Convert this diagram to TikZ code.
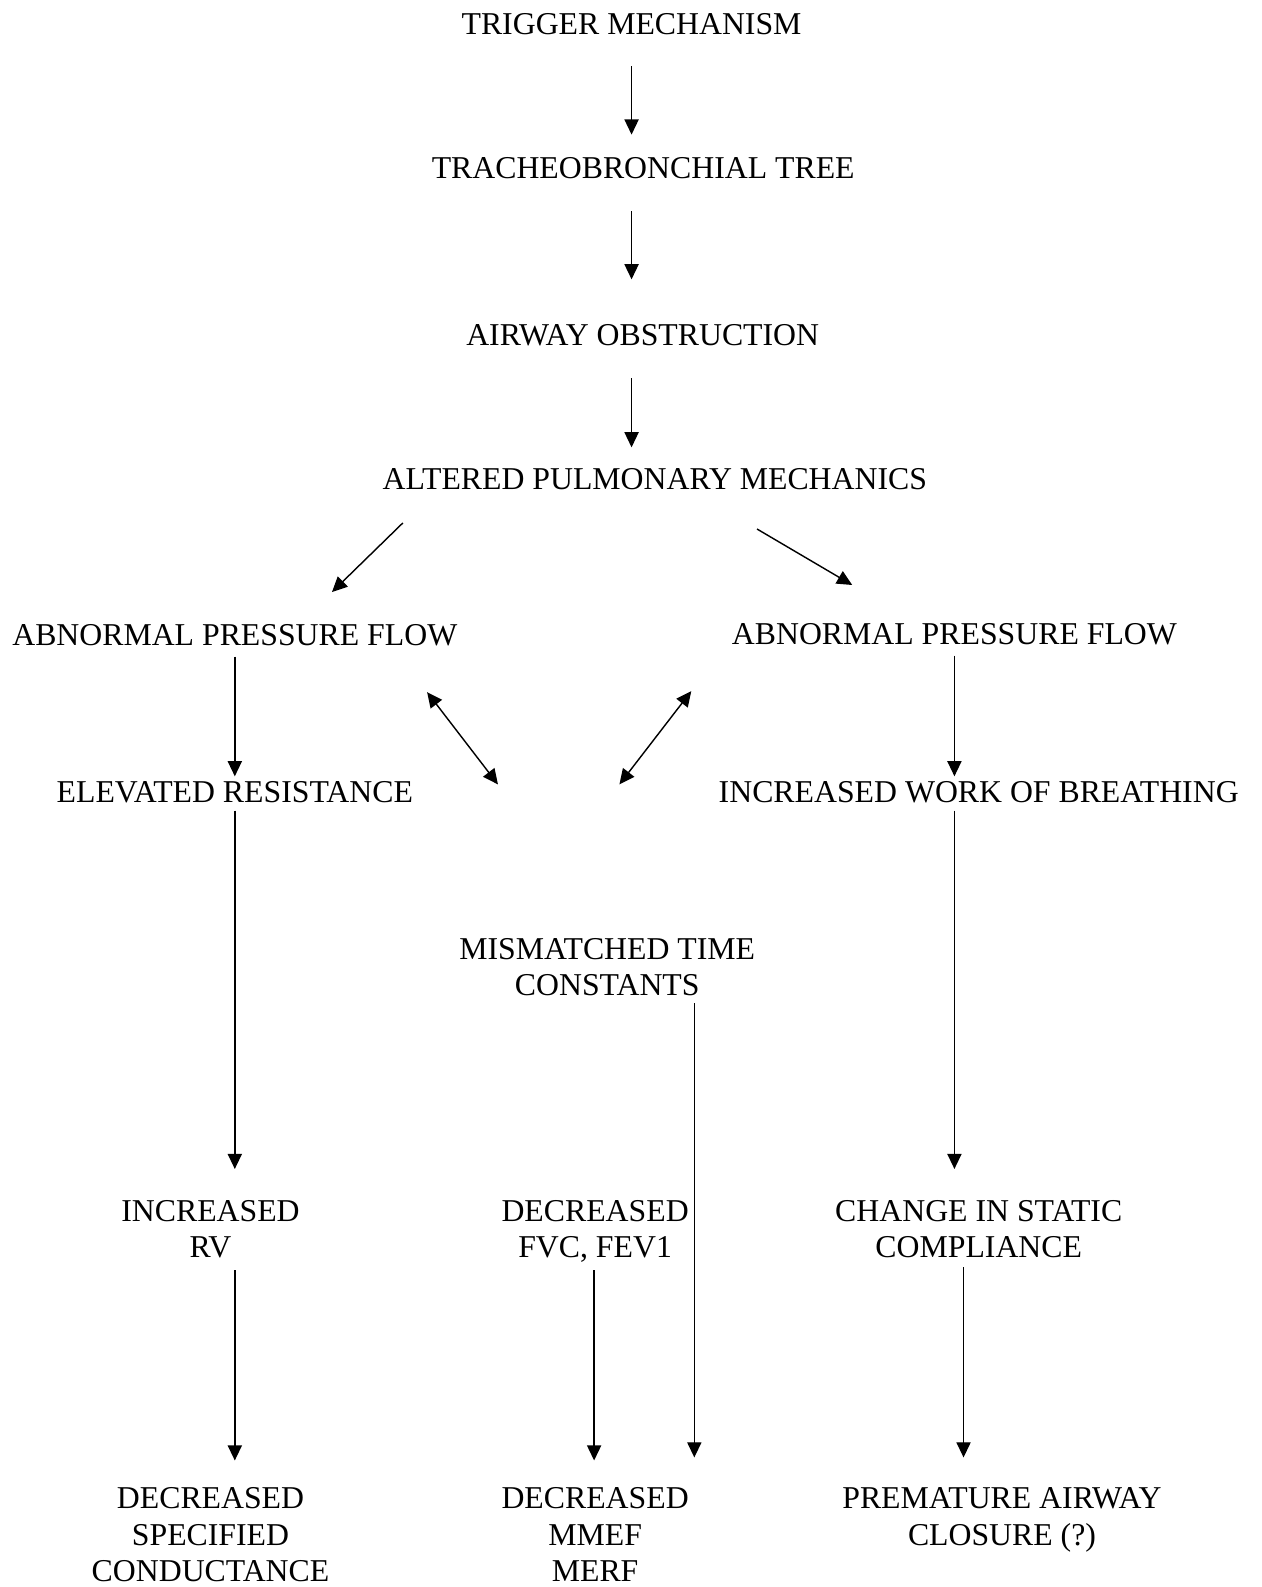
\documentclass[tikz,border=0pt]{standalone}
\usepackage{fontspec}
\setmainfont{Liberation Serif}
\usetikzlibrary{arrows.meta}

\begin{document}
\begin{tikzpicture}[x=1pt, y=-1pt,
    box/.style={anchor=north, inner sep=0pt, align=center,
      font=\fontsize{31.4}{36}\selectfont},
    arr/.style={line width=1.4pt, -{Triangle[length=15pt, width=14pt]}},
    arrboth/.style={line width=1.4pt,
      {Triangle[length=15pt, width=14pt]}-{Triangle[length=15pt, width=14pt]}}]

    \useasboundingbox (0,0) rectangle (1246,1568);

    % top chain
    \node[box] (trig) at (624,13) {TRIGGER MECHANISM};
    \node[box] (tree) at (635.5,155) {TRACHEOBRONCHIAL TREE};
    \node[box] (obstr) at (635,320.6) {AIRWAY OBSTRUCTION};
    \node[box] (mech) at (647,462.6) {ALTERED PULMONARY MECHANICS};

    \node[box] (apfl) at (232,616.6) {ABNORMAL PRESSURE FLOW};
    \node[box] (apfr) at (943,615.6) {ABNORMAL PRESSURE FLOW};

    \node[box] (resist) at (232,771.6) {ELEVATED RESISTANCE};
    \node[box] (work) at (967,771.6) {INCREASED WORK OF BREATHING};
    \node[box] (mismatch) at (600,926.6) {MISMATCHED TIME\\CONSTANTS};

    \node[box] (incrv) at (208,1185.6) {INCREASED\\RV};
    \node[box] (decfvc) at (588,1185.6) {DECREASED\\FVC, FEV1};
    \node[box] (compl) at (967,1185.6) {CHANGE IN STATIC\\COMPLIANCE};

    \node[box] (decsc) at (208,1469.6) {DECREASED\\SPECIFIED\\CONDUCTANCE};
    \node[box] (decmmef) at (588,1469.6) {DECREASED\\MMEF\\MERF};
    \node[box] (closure) at (990,1469.6) {PREMATURE AIRWAY\\CLOSURE (?)};

    \draw[arr, shorten <=31pt, shorten >=22pt] (trig.south) -- (trig.south |- tree.north);
    \draw[arr, shorten <=32pt, shorten >=44.6pt] (tree.south -| trig.south) -- (trig.south |- obstr.north);
    \draw[arr, shorten <=31.6pt, shorten >=20.6pt] (obstr.south -| trig.south) -- (trig.south |- mech.north);

    \draw[arr] ([xshift=-249pt, yshift=-32.6pt]mech.south) -- ([xshift=96pt, yshift=31.6pt]apfl.north);
    \draw[arr] ([xshift=101pt, yshift=-38.6pt]mech.south) -- ([xshift=-101pt, yshift=37.6pt]apfr.north);

    \draw[arr, shorten <=10.6pt, shorten >=4.6pt] (apfl.south) -- (resist.north);
    \draw[arr, shorten <=10.6pt, shorten >=4.6pt] (apfr.south) -- (apfr.south |- work.north);

    \draw[arrboth] ([xshift=190pt, yshift=-45.6pt]apfl.south) -- ([xshift=-108pt, yshift=151.6pt]mismatch.north);
    \draw[arrboth] ([xshift=-260pt, yshift=-45.6pt]apfr.south) -- ([xshift=12pt, yshift=151.6pt]mismatch.north);

    \draw[arr, shorten <=7.6pt, shorten >=30.6pt] (resist.south) -- (resist.south |- incrv.north);
    \draw[arr, shorten <=7.6pt, shorten >=30.6pt] (work.south -| apfr.south) -- (apfr.south |- compl.north);

    \draw[arr] ([xshift=86pt, yshift=-7pt]mismatch.south) -- ([xshift=98pt, yshift=29.6pt]decmmef.north);

    \draw[arr] ([xshift=24pt, yshift=-69.4pt]incrv.north) -- ([xshift=24pt, yshift=26.6pt]decsc.north);
    \draw[arr] ([xshift=-1pt, yshift=-69.4pt]decfvc.north) -- ([xshift=-1pt, yshift=26.6pt]decmmef.north);
    \draw[arr] ([xshift=-15pt, yshift=-66.4pt]compl.north) -- ([xshift=-38pt, yshift=29.6pt]closure.north);
\end{tikzpicture}
\end{document}
